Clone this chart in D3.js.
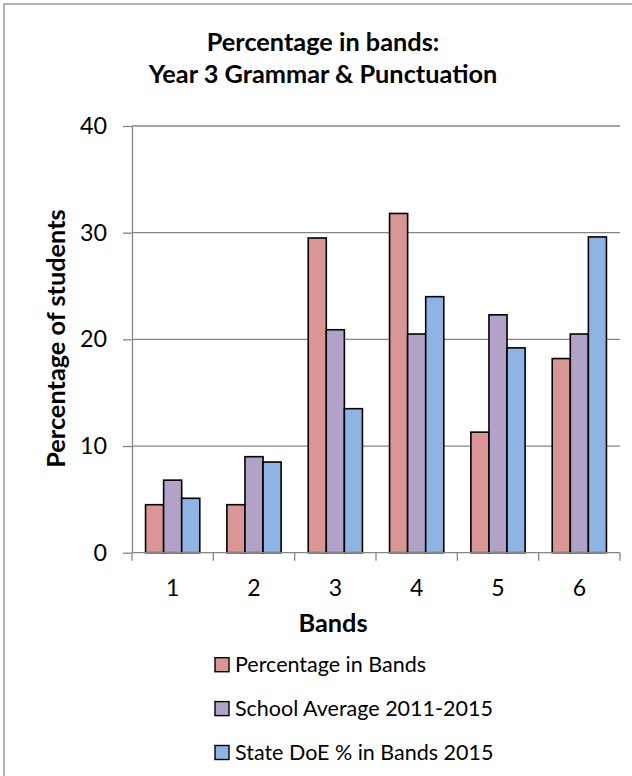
<!DOCTYPE html>
<html>
<head>
<meta charset="utf-8">
<script src="https://cdn.jsdelivr.net/npm/d3@7"></script>
<style>
  html, body { margin: 0; padding: 0; background: #fff; }
  svg { display: block; }
  text { font-family: Lato, "Noto Sans", sans-serif; fill: #000; }
</style>
</head>
<body>
<svg id="chart" width="632" height="776"></svg>
<script>
// Band categories and series
const bands = ["1", "2", "3", "4", "5", "6"];
const seriesNames = ["Percentage in Bands", "School Average 2011-2015", "State DoE % in Bands 2015"];
const percentageInBands = [4.5, 4.5, 29.5, 31.8, 11.3, 18.2];
const schoolAverage = [6.8, 9.0, 20.9, 20.5, 22.3, 20.5];
const stateDoE = [5.1, 8.5, 13.5, 24.0, 19.2, 29.6];
const seriesColors = ["#D99694", "#B3A2C7", "#8EB4E3"];
const yTicks = [0, 10, 20, 30, 40];

const seriesValues = [percentageInBands, schoolAverage, stateDoE];
const rows = bands.map((b, i) => ({
  band: b,
  values: seriesNames.map((s, k) => ({ series: s, value: seriesValues[k][i], color: seriesColors[k] }))
}));

const svg = d3.select("#chart");

// Chart frame
svg.append("rect")
  .attr("x", 4).attr("y", 4)
  .attr("width", 640).attr("height", 790)
  .attr("fill", "#fff")
  .attr("stroke", "#8c8c8c")
  .attr("stroke-width", 1.3);

const plot = { left: 132, right: 620, top: 126, bottom: 552.7 };

const x = d3.scaleBand().domain(bands).range([plot.left, plot.right]).paddingInner(0).paddingOuter(0);
const xs = d3.scaleBand().domain(seriesNames).range([0, x.bandwidth()]).paddingInner(0).paddingOuter(0.75);
const y = d3.scaleLinear().domain([0, 40]).range([plot.bottom, plot.top]);

const gridColor = "#868686";
const boldSize = 25.3;

// Horizontal gridlines
svg.append("g")
  .selectAll("line")
  .data(yTicks.filter(t => t > 0))
  .join("line")
  .attr("x1", plot.left).attr("x2", plot.right)
  .attr("y1", d => y(d)).attr("y2", d => y(d))
  .attr("stroke", gridColor)
  .attr("stroke-width", 1.3);

// Y axis
const yAxis = svg.append("g")
  .attr("transform", `translate(${plot.left},0)`)
  .call(d3.axisLeft(y).tickValues(yTicks).tickSize(9).tickPadding(16).tickSizeOuter(0));
yAxis.select(".domain").attr("stroke", gridColor).attr("stroke-width", 1.3);
yAxis.selectAll(".tick line").attr("stroke", gridColor).attr("stroke-width", 1.3);
yAxis.selectAll(".tick text")
  .attr("font-family", "Lato, sans-serif")
  .attr("font-size", 23.3)
  .attr("fill", "#000");

// Bars
const groups = svg.append("g")
  .selectAll("g")
  .data(rows)
  .join("g")
  .attr("transform", d => `translate(${x(d.band)},0)`);

groups.selectAll("rect")
  .data(d => d.values)
  .join("rect")
  .attr("x", d => xs(d.series))
  .attr("width", xs.bandwidth())
  .attr("y", d => y(d.value))
  .attr("height", d => y(0) - y(d.value))
  .attr("fill", d => d.color)
  .attr("stroke", "#000")
  .attr("stroke-width", 1.6);

// X axis
const xAxis = svg.append("g")
  .attr("transform", `translate(0,${plot.bottom})`)
  .call(d3.axisBottom(x).tickSize(0).tickPadding(27));
xAxis.select(".domain").remove();
xAxis.selectAll(".tick text")
  .attr("font-family", "Lato, sans-serif")
  .attr("font-size", 23)
  .attr("fill", "#000");

// Axis baseline and category boundary ticks
svg.append("line")
  .attr("x1", plot.left).attr("x2", plot.right)
  .attr("y1", plot.bottom).attr("y2", plot.bottom)
  .attr("stroke", gridColor).attr("stroke-width", 1.3);
svg.append("g")
  .selectAll("line")
  .data(bands.map(b => x(b)).concat([plot.right]))
  .join("line")
  .attr("x1", d => d).attr("x2", d => d)
  .attr("y1", plot.bottom).attr("y2", plot.bottom + 8)
  .attr("stroke", gridColor).attr("stroke-width", 1.3);

// Title
const title = svg.append("text")
  .attr("text-anchor", "middle")
  .attr("font-weight", "bold")
  .attr("font-size", boldSize);
title.append("tspan").attr("x", 323).attr("y", 51).text("Percentage in bands:");
title.append("tspan").attr("x", 323).attr("y", 83).text("Year 3 Grammar & Punctuation");

// Axis titles
svg.append("text")
  .attr("text-anchor", "middle")
  .attr("font-weight", "bold")
  .attr("font-size", boldSize)
  .attr("transform", "translate(65,338.5) rotate(-90)")
  .text("Percentage of students");

svg.append("text")
  .attr("x", 333).attr("y", 632)
  .attr("text-anchor", "middle")
  .attr("font-weight", "bold")
  .attr("font-size", boldSize)
  .text("Bands");

// Legend
const legend = svg.append("g")
  .selectAll("g")
  .data(seriesNames)
  .join("g")
  .attr("transform", (d, i) => `translate(215,${671.7 + i * 43.9})`);
legend.append("rect")
  .attr("x", 0).attr("y", -14)
  .attr("width", 14).attr("height", 14)
  .attr("fill", (d, i) => seriesColors[i])
  .attr("stroke", "#000")
  .attr("stroke-width", 1.4);
legend.append("text")
  .attr("x", 20).attr("y", 0)
  .attr("font-size", 21.5)
  .text(d => d);
</script>
</body>
</html>
